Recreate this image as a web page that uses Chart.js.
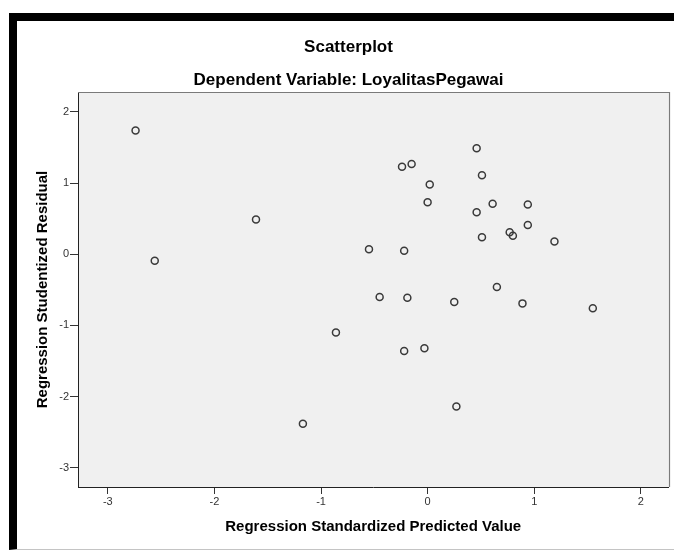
<!DOCTYPE html>
<html><head><meta charset="utf-8">
<script src="https://cdn.jsdelivr.net/npm/chart.js@4"></script>
<style>
html,body{margin:0;padding:0;background:#fff;overflow:hidden;width:674px;height:551px;}
#frame{position:absolute;left:9px;top:13px;width:700px;height:537px;box-sizing:border-box;border-top:8px solid #000;border-left:8px solid #000;border-bottom:1px solid #c4c4c4;}
#c{position:absolute;left:0;top:0;}
</style></head><body>
<div id="frame"></div>
<canvas id="c" width="674" height="551"></canvas>
<script>
// Regression Standardized Predicted Value (x) and Regression Studentized Residual (y)
const predicted = [-2.74, -1.61, -2.56, -0.55, 0.46, -0.24, -0.15, 0.51, 0.02, 0.00,
                   0.61, 0.94, 0.46, 0.94, 0.77, 0.80, 0.51, 1.19, -0.22, -0.45,
                   -0.86, -1.17, -0.19, 0.25, 0.65, 0.89, 1.55, -0.22, -0.03, 0.27];
const residual  = [1.74, 0.49, -0.09, 0.07, 1.49, 1.23, 1.27, 1.11, 0.98, 0.73,
                   0.71, 0.70, 0.59, 0.41, 0.31, 0.26, 0.24, 0.18, 0.05, -0.60,
                   -1.10, -2.38, -0.61, -0.67, -0.46, -0.69, -0.76, -1.36, -1.32, -2.14];
const xTicks = [-3, -2, -1, 0, 1, 2];
const xTickLabels = ['-3', '-2', '-1', '0', '1', '2'];
const yTicks = [-3, -2, -1, 0, 1, 2];
const yTickLabels = ['-3', '-2', '-1', '0', '1', '2'];
const xRange = [-3.28, 2.26];
const yRange = [-3.27, 2.28];

const FONT = '"Liberation Sans", Arial, Helvetica, sans-serif';

const plotFrame = {
  id: 'plotFrame',
  beforeDraw(chart) {
    const {ctx, chartArea: a} = chart;
    ctx.save();
    ctx.fillStyle = '#f0f0f0';
    ctx.fillRect(a.left, a.top, a.right - a.left, a.bottom - a.top);
    ctx.restore();
  },
  afterDraw(chart) {
    const {ctx, chartArea: a} = chart;
    ctx.save();
    ctx.strokeStyle = '#7a7a7a';
    ctx.lineWidth = 1.2;
    ctx.beginPath();
    ctx.moveTo(a.left, Math.round(a.top) + 0.5);
    ctx.lineTo(Math.round(a.right) + 0.5, Math.round(a.top) + 0.5);
    ctx.lineTo(Math.round(a.right) + 0.5, a.bottom);
    ctx.stroke();
    ctx.restore();
  }
};

new Chart(document.getElementById('c'), {
  type: 'scatter',
  data: {
    datasets: [{
      data: predicted.map((x, i) => ({x: x, y: residual[i]})),
      pointRadius: 3.5,
      pointBorderWidth: 1.5,
      pointBorderColor: '#3a3a3a',
      pointBackgroundColor: 'rgba(0,0,0,0)',
      showLine: false
    }]
  },
  plugins: [plotFrame],
  options: {
    responsive: false,
    animation: false,
    devicePixelRatio: 1,
    layout: {padding: {left: 28, right: 5, top: 0, bottom: 0}},
    plugins: {
      legend: {display: false},
      tooltip: {enabled: false},
      title: {
        display: true, text: 'Scatterplot', color: '#000',
        font: {family: FONT, size: 17, weight: 'bold', lineHeight: 1.2},
        padding: {top: 36.8, bottom: 0}
      },
      subtitle: {
        display: true, text: 'Dependent Variable: LoyalitasPegawai', color: '#000',
        font: {family: FONT, size: 17, weight: 'bold', lineHeight: 1.2},
        padding: {top: 12.6, bottom: 1.8}
      }
    },
    scales: {
      x: {
        type: 'linear', position: 'bottom',
        min: xRange[0], max: xRange[1],
        afterBuildTicks(s) { s.ticks = xTicks.map(v => ({value: v})); },
        afterFit(s) { s.height = 64; },
        grid: {drawOnChartArea: false, drawTicks: true, tickLength: 7, color: '#333', lineWidth: 1},
        border: {display: true, color: '#222', width: 1},
        ticks: {
          padding: 1, color: '#333', maxRotation: 0, autoSkip: false,
          font: {family: FONT, size: 11},
          callback: (v, i) => xTickLabels[i]
        },
        title: {
          display: true, text: 'Regression Standardized Predicted Value', color: '#000',
          font: {family: FONT, size: 15, weight: 'bold', lineHeight: 1.2},
          padding: {top: 0, bottom: 15.5}
        }
      },
      y: {
        type: 'linear', position: 'left',
        min: yRange[0], max: yRange[1],
        afterBuildTicks(s) { s.ticks = yTicks.map(v => ({value: v})); },
        afterFit(s) { s.width = 50; },
        grid: {drawOnChartArea: false, drawTicks: true, tickLength: 8, color: '#333', lineWidth: 1},
        border: {display: true, color: '#222', width: 1},
        ticks: {
          padding: 1, color: '#333', autoSkip: false,
          font: {family: FONT, size: 11},
          callback: (v, i) => yTickLabels[i]
        },
        title: {
          display: true, text: 'Regression Studentized Residual', color: '#000',
          font: {family: FONT, size: 15, weight: 'bold', lineHeight: 1.2},
          padding: {top: 6, bottom: 0}
        }
      }
    }
  }
});
</script>
</body></html>
